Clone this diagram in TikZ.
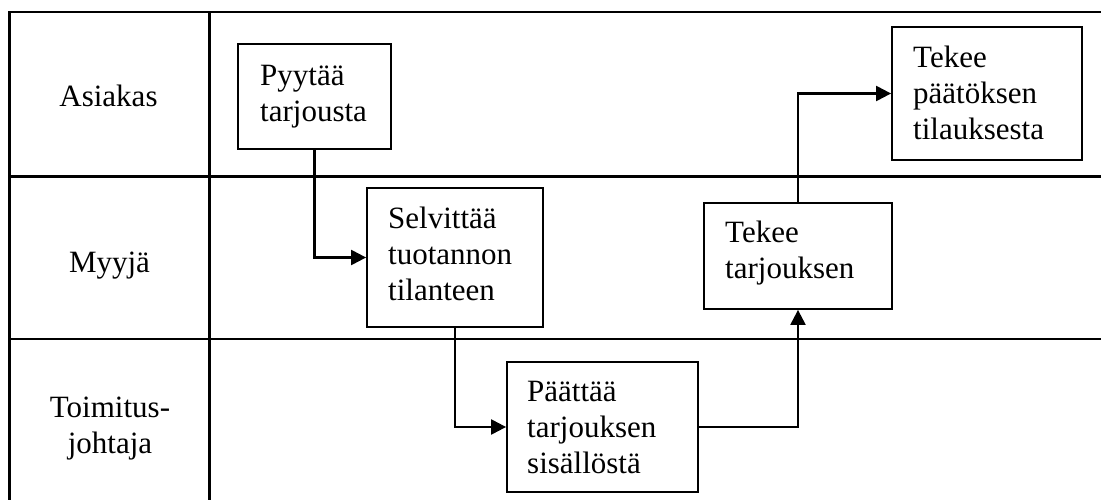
\documentclass[tikz,border=0pt]{standalone}
\usepackage{fontspec}
\setmainfont{Liberation Serif}
\usetikzlibrary{arrows.meta}
\begin{document}
\begin{tikzpicture}[x=1pt,y=-1pt,
  lane/.style={line width=2.2pt},
  box/.style={draw,line width=1.8pt,inner sep=0pt,rectangle},
  txt/.style={anchor=base west,align=left,inner sep=0pt,font=\fontsize{31}{36}\selectfont},
  lbl/.style={anchor=base,align=center,inner sep=0pt,font=\fontsize{31}{36}\selectfont},
  arr/.style={line width=2.2pt,-{Triangle[length=15pt,width=15pt]}}]
\useasboundingbox (0,0) rectangle (1101,500);
% swimlane frame
\draw[lane] (1101,12) -- (9.5,12) -- (9.5,500);
\draw[lane] (209.5,12) -- (209.5,500);
\draw[lane] (9.5,176.5) -- (1101,176.5);
\draw[lane] (9.5,339) -- (1101,339);
% lane labels (base = baseline of last line)
\node[lbl] (l1) at (108.5,107) {Asiakas};
\node[lbl] (l2) at (109.5,272) {Myyjä};
\node[lbl] (l3) at (110,453) {Toimitus-\\johtaja};
% boxes
\node[box,minimum width=153pt,minimum height=105pt] (b1) at (314.5,96.5) {};
\node[box,minimum width=176pt,minimum height=139pt] (b2) at (455,257.5) {};
\node[box,minimum width=191pt,minimum height=130pt] (b3) at (602.5,427) {};
\node[box,minimum width=188pt,minimum height=106pt] (b4) at (798,256) {};
\node[box,minimum width=190pt,minimum height=133pt] (b5) at (987,93.5) {};
% box texts (base = baseline of last line)
\node[txt] (t1) at (260,122) {Pyytää\\tarjousta};
\node[txt] (t2) at (388,300) {Selvittää\\tuotannon\\tilanteen};
\node[txt] (t3) at (527,473) {Päättää\\tarjouksen\\sisällöstä};
\node[txt] (t4) at (725,278) {Tekee\\tarjouksen};
\node[txt] (t5) at (913,140) {Tekee\\päätöksen\\tilauksesta};
% connectors
\draw[arr] (b1.south) |- (b2.west);
\draw[arr] (b2.south) |- (b3.west);
\draw[arr] (b3.east) -| (b4.south);
\draw[arr] (b4.north) |- (b5.west);
\end{tikzpicture}
\end{document}
